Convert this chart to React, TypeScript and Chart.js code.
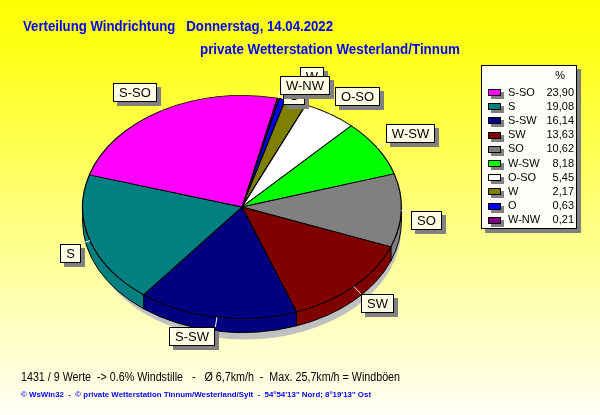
import { useEffect, useRef } from "react"
import { Chart, ArcElement, PieController } from "chart.js"

Chart.register(ArcElement, PieController)

// wind directions, clockwise from the start angle (ascending share)
const directions = ["W-NW", "O", "W", "O-SO", "W-SW", "SO", "SW", "S-SW", "S", "S-SO"]
const shares = [0.21, 0.63, 2.17, 5.45, 8.18, 10.62, 13.63, 16.14, 19.08, 23.9]
const sliceColors = ["#800080", "#0000ff", "#808000", "#ffffff", "#00ff00", "#808080", "#800000", "#000080", "#008080", "#ff00ff"]

const titleLine = "Verteilung Windrichtung   Donnerstag, 14.04.2022"
const stationLine = "private Wetterstation Westerland/Tinnum"
const statsLine = "1431 / 9 Werte  -> 0.6% Windstille   -   Ø 6,7km/h  -  Max. 25,7km/h = Windböen"
const creditLine = "© WsWin32  -  © private Wetterstation Tinnum/Westerland/Sylt  -  54°54'13\" Nord; 8°19'13\" Ost"

const SQUASH = 0.7 // vertical squash of the pie
const DEPTH = 14 // 3d side height
const FONT = "'Liberation Sans', Arial, sans-serif"

// small shifts for the crowded labels at the top
const labelNudge: Record<string, [number, number]> = {
  "W-NW": [-1, 6],
  O: [-2, 16],
  W: [1, -7],
}

function fitText(ctx: CanvasRenderingContext2D, text: string, x: number, y: number, width: number) {
  const w = ctx.measureText(text).width
  ctx.save()
  ctx.translate(x, y)
  ctx.scale(width / w, 1)
  ctx.textAlign = "left"
  ctx.fillText(text, 0, 0)
  ctx.restore()
}

const fmt = (v: number) => v.toFixed(2).replace(".", ",")

const pie3d = {
  id: "pie3d",
  beforeDatasetsDraw(chart: any) {
    const ctx: CanvasRenderingContext2D = chart.ctx
    const arcs = chart.getDatasetMeta(0).data
    const { x: cx, y: cy, outerRadius: r } = arcs[0].getProps(["x", "y", "outerRadius"], true)
    const ry = r * SQUASH

    // shadow
    ctx.save()
    ctx.fillStyle = "#c0c0c0"
    ctx.beginPath()
    ctx.ellipse(cx + 3, cy + DEPTH + 7, r - 3, ry, 0, 0, Math.PI * 2)
    ctx.fill()

    // visible side walls (lower half)
    ctx.lineWidth = 1
    ctx.strokeStyle = "#000"
    arcs.forEach((arc: any, i: number) => {
      const { startAngle, endAngle } = arc.getProps(["startAngle", "endAngle"], true)
      const a = Math.max(startAngle, 0)
      const b = Math.min(endAngle, Math.PI)
      if (b <= a) return
      ctx.beginPath()
      ctx.ellipse(cx, cy, r, ry, 0, a, b)
      ctx.lineTo(cx + r * Math.cos(b), cy + ry * Math.sin(b) + DEPTH)
      ctx.ellipse(cx, cy + DEPTH, r, ry, 0, b, a, true)
      ctx.closePath()
      ctx.fillStyle = sliceColors[i]
      ctx.fill()
      ctx.stroke()
    })
    ctx.restore()

    // squash the top face
    ctx.save()
    ctx.translate(cx, cy)
    ctx.scale(1, SQUASH)
    ctx.translate(-cx, -cy)
  },
  afterDatasetsDraw(chart: any) {
    const ctx: CanvasRenderingContext2D = chart.ctx
    ctx.restore()
    const arcs = chart.getDatasetMeta(0).data
    const { x: cx, y: cy, outerRadius: r } = arcs[0].getProps(["x", "y", "outerRadius"], true)
    const ry = r * SQUASH

    const boxes = arcs.map((arc: any, i: number) => {
      const { startAngle, endAngle } = arc.getProps(["startAngle", "endAngle"], true)
      const mid = (startAngle + endAngle) / 2
      const ux = Math.cos(mid)
      const uy = Math.sin(mid)
      const ex = cx + r * ux
      const ey = cy + ry * uy
      const px = ex + 10 * ux
      const py = ey + 10 * uy
      ctx.font = `13px ${FONT}`
      const w = Math.round(ctx.measureText(directions[i]).width + 12)
      const h = 19
      const nudge = labelNudge[directions[i]] || [0, 0]
      const left = Math.round((ux >= 0 ? px : px - w) + nudge[0])
      const top = Math.round((uy < 0 ? py - h : py) + nudge[1])
      return { ex, ey, px, py, left, top, w, h, text: directions[i] }
    })

    ctx.save()
    // leader lines
    ctx.strokeStyle = "#ffffff"
    ctx.lineWidth = 1
    boxes.forEach((b: any) => {
      ctx.beginPath()
      ctx.moveTo(b.ex, b.ey)
      ctx.lineTo(b.px, b.py)
      ctx.stroke()
    })
    // label boxes, first slice drawn last (on top)
    for (let i = boxes.length - 1; i >= 0; i--) {
      const b = boxes[i]
      ctx.fillStyle = "#808080"
      ctx.fillRect(b.left + 4, b.top + 4, b.w, b.h)
      ctx.fillStyle = "#ffffe6"
      ctx.fillRect(b.left, b.top, b.w, b.h)
      ctx.strokeStyle = "#000"
      ctx.strokeRect(b.left + 0.5, b.top + 0.5, b.w - 1, b.h - 1)
      ctx.fillStyle = "#000"
      ctx.font = `13px ${FONT}`
      ctx.textAlign = "center"
      ctx.textBaseline = "middle"
      ctx.fillText(b.text, b.left + b.w / 2, b.top + b.h / 2 + 1)
    }
    ctx.restore()
  },
  afterDraw(chart: any) {
    const ctx: CanvasRenderingContext2D = chart.ctx
    ctx.save()
    ctx.textBaseline = "alphabetic"

    // titles
    ctx.fillStyle = "#0000ff"
    ctx.font = `bold 14px ${FONT}`
    fitText(ctx, titleLine, 23, 31, 310)
    fitText(ctx, stationLine, 200, 54, 260)

    // footer
    ctx.fillStyle = "#000"
    ctx.font = `12px ${FONT}`
    fitText(ctx, statsLine, 21, 381, 379)
    ctx.fillStyle = "#0000ff"
    ctx.font = `bold 8px ${FONT}`
    fitText(ctx, creditLine, 21, 397, 350)

    // legend box
    const lx = 481
    const ly = 65
    const lw = 96
    const lh = 164
    ctx.fillStyle = "#808080"
    ctx.fillRect(lx + 4, ly + 4, lw, lh)
    ctx.fillStyle = "#fffffa"
    ctx.fillRect(lx, ly, lw, lh)
    ctx.strokeStyle = "#000"
    ctx.lineWidth = 1
    ctx.strokeRect(lx + 0.5, ly + 0.5, lw - 1, lh - 1)

    ctx.fillStyle = "#000"
    ctx.font = `11px ${FONT}`
    ctx.textBaseline = "middle"
    ctx.textAlign = "right"
    ctx.fillText("%", 565, 76)

    const order = directions.map((_, i) => i).reverse()
    order.forEach((idx, row) => {
      const y = 92 + row * 14.2
      ctx.fillStyle = "#808080"
      ctx.fillRect(491, Math.round(y - 3) + 3, 13, 7)
      ctx.fillStyle = sliceColors[idx]
      ctx.fillRect(488, Math.round(y - 3), 13, 7)
      ctx.strokeStyle = "#000"
      ctx.strokeRect(488.5, Math.round(y - 3) + 0.5, 12, 6)
      ctx.fillStyle = "#000"
      ctx.textAlign = "left"
      ctx.fillText(directions[idx], 508, y + 0.5)
      ctx.textAlign = "right"
      ctx.fillText(fmt(shares[idx]), 574, y + 0.5)
    })
    ctx.restore()
  },
}

export default function App() {
  const canvasRef = useRef<HTMLCanvasElement>(null)
  const chartRef = useRef<Chart | null>(null)

  useEffect(() => {
    document.body.style.margin = "0"
    if (!canvasRef.current) return
    if (chartRef.current) chartRef.current.destroy()

    chartRef.current = new Chart(canvasRef.current, {
      type: "pie",
      data: {
        labels: directions,
        datasets: [
          {
            data: shares,
            backgroundColor: sliceColors,
            borderColor: "#000000",
            borderWidth: 1.2,
            clip: false,
          } as any,
        ],
      },
      options: {
        responsive: false,
        animation: false,
        events: [],
        rotation: 12.8,
        layout: { padding: { left: 82, right: 198, top: 47, bottom: 48 } },
        plugins: {
          legend: { display: false },
          tooltip: { enabled: false },
        },
      } as any,
      plugins: [pie3d],
    })

    return () => {
      if (chartRef.current) {
        chartRef.current.destroy()
        chartRef.current = null
      }
    }
  }, [])

  return (
    <div
      style={{
        position: "relative",
        width: 600,
        height: 415,
        background: "linear-gradient(to bottom, #ffff00 0%, #ffff18 12%, #fffff6 100%)",
      }}
    >
      <canvas ref={canvasRef} width={600} height={415} style={{ display: "block" }} />
    </div>
  )
}
